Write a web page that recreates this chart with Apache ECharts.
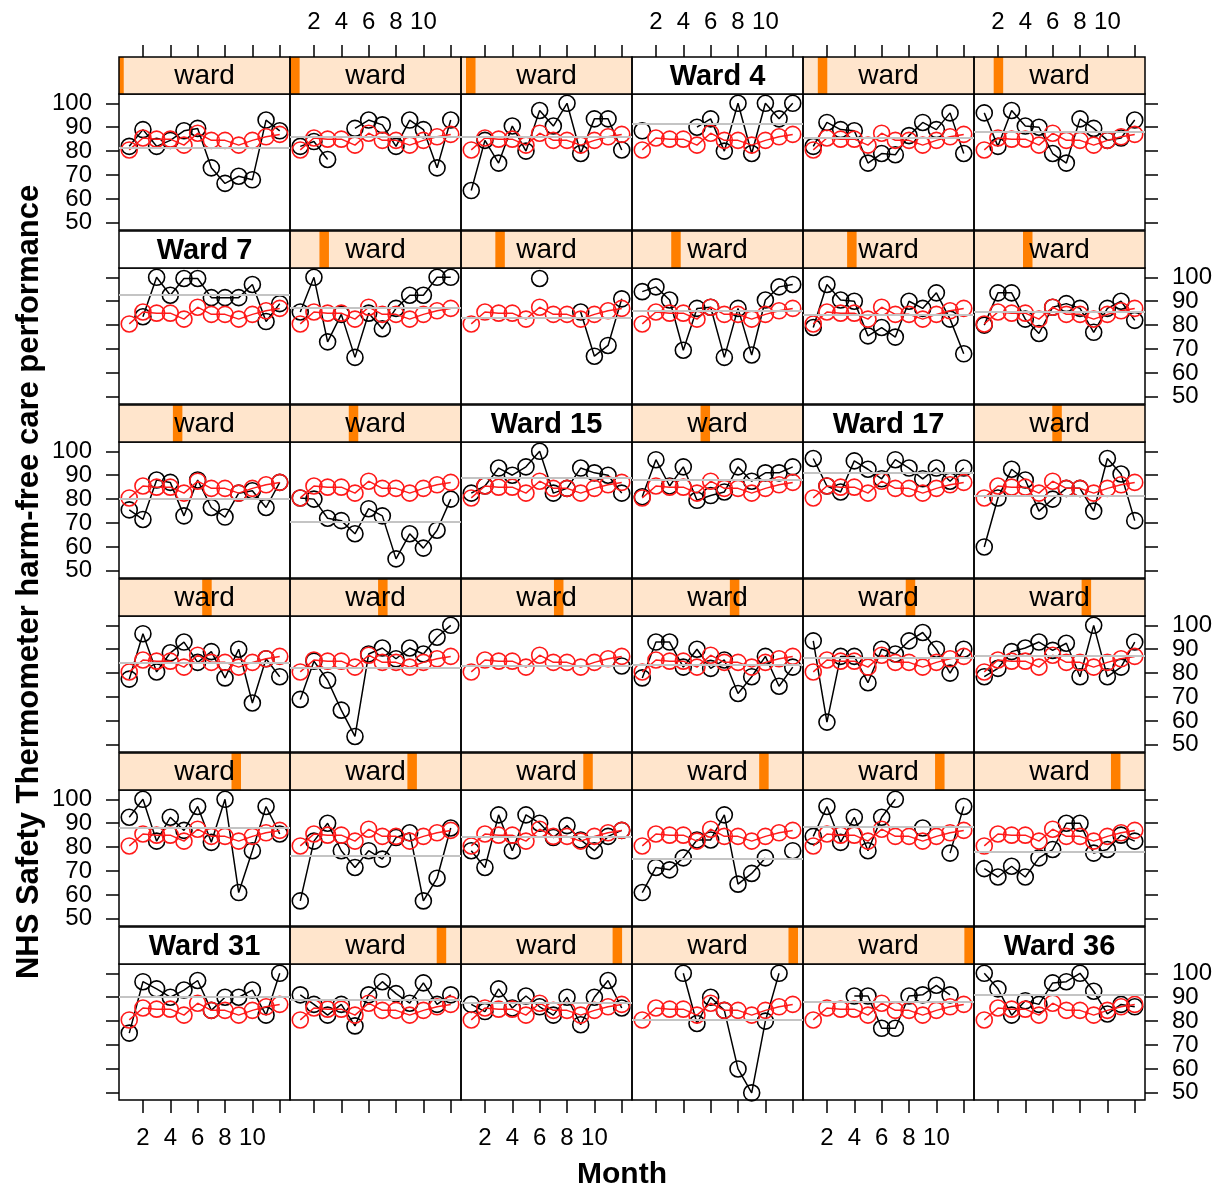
<!DOCTYPE html>
<html>
<head>
<meta charset="utf-8">
<script src="https://cdn.jsdelivr.net/npm/echarts@6/dist/echarts.min.js"></script>
<style>
html,body{margin:0;padding:0;background:#fff;}
#chart{width:1230px;height:1191px;}
</style>
</head>
<body>
<div id="chart"></div>
<script>
// ---------------- data ----------------
const months = [1,2,3,4,5,6,7,8,9,10,11,12];
const overall = [80.5,85.5,85,85,82.5,87.5,84.5,84.5,82.5,84.5,86,87];

const ward01 = [82,89,82,84.5,88.5,89.5,73,66.5,69.5,68,93,88.5];
const ward02 = [82,84,76.5,null,89.5,93,91,82,93,89,73,93];
const ward03 = [63.5,84.5,75,90.5,80,97,90.5,100,79,93.5,93.5,80.5];
const ward04 = [88.5,null,null,null,90,93.5,80,100,79,100,93.5,100];
const ward05 = [82,92,89,88.5,75,79,78.5,86.5,92,89,96,79];
const ward06 = [96,82,97,90.5,90,79,75,93.5,89.5,84.5,85.5,93];
const ward07 = [null,83.5,100,92.5,99.5,99.5,91.5,91.5,91.5,97,81.5,89];
const ward08 = [85.5,100,73,84.5,66.5,85,78.5,87,92.5,92.5,100,100];
const ward09 = [null,null,null,null,null,99.5,null,null,85.5,67,71.5,91];
const ward10 = [94,96,90.5,69.5,87,87.5,66.5,87,67.5,90.5,96,97];
const ward11 = [79,97,90.5,90,75.5,79,75,90,87,93.5,82.5,68];
const ward12 = [80,93.5,93.5,82.5,76.5,87.5,89,87,77,87,90,82];
const ward13 = [75.5,71.5,88,87,73,88,76.5,72.5,82.5,83.5,76.5,87];
const ward14 = [80.5,80,72,71,65.5,76,73,55,65.5,59.5,67,80];
const ward15 = [82.5,85.5,93,90,93.5,100,82.5,84.5,93,91,90,82.5];
const ward16 = [81,96.5,85.5,93.5,79.5,81.5,83,93.5,87.5,91,91,93.5];
const ward17 = [97,85.5,83,96,92.5,88.5,96.5,93,88.5,93,87.5,93];
const ward18 = [60,80.5,92.5,88,75,80,84.5,84.5,75,97,90.5,71];
const ward19 = [77.5,96.5,80.5,88.5,93,84.5,89,78,90,67.5,86,78.5];
const ward20 = [69,85,77,64.5,53.5,88,90.5,86,90.5,88,95,100];
const ward21 = [null,null,null,null,null,null,null,null,null,null,null,83];
const ward22 = [78,93,93,82.5,90,82,85.5,71.5,78.5,87,74.5,82.5];
const ward23 = [93.5,59.5,87,87,76,90,88,93.5,97,90,80,90];
const ward24 = [78.5,82,89,90.5,93,89.5,92.5,78.5,100,78.5,82.5,93];
const ward25 = [92.5,100,82.5,92.5,87,97,82,100,61,78.5,97,85.5];
const ward26 = [57.5,82.5,90,78.5,71.5,78.5,75,84,86,57.5,67,88];
const ward27 = [78.5,71.5,93.5,78.5,93.5,90,84,89,83,78.5,84.5,87];
const ward28 = [61,71.5,70.5,75.5,83,83,93.5,64.5,69,75.5,null,78.5];
const ward29 = [84.5,97,82,92.5,78.5,92.5,100,null,88,null,77.5,97];
const ward30 = [71,67.5,72,67.5,75.5,79,90,90,77.5,79,85,82.5];
const ward31 = [75,96.5,93.5,90,93,97,84.5,90,90,93,82.5,100];
const ward32 = [91,87,82.5,87,78,91,96.5,91.5,87.5,96,87,91];
const ward33 = [87,84,93.5,85.5,90.5,86,82.5,90,78.5,90,97,85.5];
const ward34 = [null,null,null,100,79,90,84.5,60,50,80,100,null];
const ward35 = [null,null,null,90.5,90.5,77,77,90.5,91,95,91,null];
const ward36 = [100,93.5,82.5,88.5,87,96,96.5,100,92.5,83,87,86];

// grey reference line (ward level) per ward
const wardMeans = [81.5,86,86,91.5,85.5,88,92.5,87.3,83.2,86,84.2,85.8,
                   80.1,70.7,89,88,91.2,81.5,84.2,82.4,83,83.6,86.3,87.4,
                   88,76.2,84.3,75,88.6,78.2,90.3,89,87.5,80.5,87.9,91];

const namedWards = [4,7,15,17,31,36];
const xTicks = [2,4,6,8,10,12];
const xTickLabels = [2,4,6,8,10];
const yTicks = [50,60,70,80,90,100];
const xTitle = 'Month';
const yTitle = 'NHS Safety Thermometer harm-free care performance';

const allWards = [ward01,ward02,ward03,ward04,ward05,ward06,ward07,ward08,ward09,ward10,
  ward11,ward12,ward13,ward14,ward15,ward16,ward17,ward18,ward19,ward20,
  ward21,ward22,ward23,ward24,ward25,ward26,ward27,ward28,ward29,ward30,
  ward31,ward32,ward33,ward34,ward35,ward36];

// ---------------- layout ----------------
const FONT = "'Liberation Sans', Arial, Helvetica, sans-serif";
const LAY = {left:119, top:94, pw:171, ph:136, rowStep:174, strip:37,
             xMin:0.25, xMax:12.75, yMin:47, yMax:103.9, nCols:6};

const grids = [], xAxes = [], yAxes = [], series = [], graphics = [];

function toPairs(vals){
  return months.map((m,i)=>[m, vals[i]==null ? '-' : vals[i]]);
}

allWards.forEach((vals, w) => {
  const r = Math.floor(w / LAY.nCols), c = w % LAY.nCols;
  const gl = LAY.left + c*LAY.pw, gt = LAY.top + r*LAY.rowStep;
  grids.push({left:gl, top:gt, width:LAY.pw, height:LAY.ph, show:true,
              borderColor:'#000', borderWidth:1.5, backgroundColor:'transparent', containLabel:false});

  const tickStyle = {color:'#000', width:1.5};
  const labelStyle = {color:'#000', fontSize:24, fontFamily:FONT};

  const xi = xAxes.length;
  xAxes.push({gridIndex:w, type:'value', min:LAY.xMin, max:LAY.xMax, position:'bottom',
    axisLine:{show:false}, splitLine:{show:false},
    axisTick:{show:r===5, length:13, customValues:xTicks, lineStyle:tickStyle},
    axisLabel:Object.assign({show:r===5 && c%2===0, customValues:xTickLabels, margin:26}, labelStyle)});
  if (r === 0) {
    xAxes.push({gridIndex:w, type:'value', min:LAY.xMin, max:LAY.xMax, position:'top', offset:LAY.strip,
      axisLine:{show:false}, splitLine:{show:false},
      axisTick:{show:true, length:12, customValues:xTicks, lineStyle:tickStyle},
      axisLabel:Object.assign({show:c%2===1, customValues:xTickLabels, margin:23}, labelStyle)});
  }
  const yi = yAxes.length;
  const isEdge = (c===0 || c===5);
  yAxes.push({gridIndex:w, type:'value', min:LAY.yMin, max:LAY.yMax, position:c===5?'right':'left',
    axisLine:{show:false}, splitLine:{show:false},
    axisTick:{show:isEdge, length:13, customValues:yTicks, lineStyle:tickStyle},
    axisLabel:Object.assign({show:(c===0 && r%2===0)||(c===5 && r%2===1), customValues:yTicks, margin:27}, labelStyle)});

  // grey reference line
  series.push({type:'line', xAxisIndex:xi, yAxisIndex:yi, data:[], z:1, silent:true,
    markLine:{silent:true, symbol:'none', animation:false, label:{show:false},
      lineStyle:{color:'#c4c4c4', width:2, type:'solid'},
      data:[{yAxis:wardMeans[w]}]}});
  // ward series (black)
  series.push({type:'line', xAxisIndex:xi, yAxisIndex:yi, data:toPairs(vals), z:2,
    connectNulls:false, showSymbol:true, showAllSymbol:true, symbol:'circle', symbolSize:16,
    lineStyle:{color:'#000', width:1.5},
    itemStyle:{color:'rgba(0,0,0,0)', borderColor:'#000', borderWidth:1.6}});
  // overall series (red)
  series.push({type:'line', xAxisIndex:xi, yAxisIndex:yi, data:toPairs(overall), z:3,
    showSymbol:true, showAllSymbol:true, symbol:'circle', symbolSize:16,
    lineStyle:{color:'#ff1a1a', width:1.5},
    itemStyle:{color:'rgba(0,0,0,0)', borderColor:'#ff1a1a', borderWidth:1.6}});

  // strip
  const wardNo = w + 1;
  const named = namedWards.indexOf(wardNo) >= 0;
  const sy = gt - LAY.strip;
  graphics.push({type:'rect', shape:{x:gl, y:sy, width:LAY.pw, height:LAY.strip},
    style:{fill: named ? '#ffffff' : '#ffe5cc', stroke:'none'}, z:10});
  if (!named) {
    const n = allWards.length;
    const centre = gl + (wardNo-1)/(n-1)*LAY.pw;
    const half = LAY.pw/n;
    const x0 = Math.max(gl, centre-half), x1 = Math.min(gl+LAY.pw, centre+half);
    graphics.push({type:'rect', shape:{x:x0, y:sy, width:x1-x0, height:LAY.strip},
      style:{fill:'#ff7f00'}, z:11});
  }
  graphics.push({type:'text', x:gl+LAY.pw/2, y:sy+LAY.strip/2+1, z:12,
    style:{text: named ? ('Ward ' + wardNo) : 'ward', fill:'#000',
      fontSize: named ? 29 : 28, fontWeight: named ? 'bold' : 'normal', fontFamily:FONT,
      align:'center', verticalAlign:'middle', textAlign:'center', textVerticalAlign:'middle'}});
  graphics.push({type:'rect', shape:{x:gl, y:sy, width:LAY.pw, height:LAY.strip},
    style:{fill:'none', stroke:'#000', lineWidth:1.5}, z:13});
});

// axis titles
graphics.push({type:'text', x:622, y:1175, z:20,
  style:{text:xTitle, fill:'#000', fontSize:30, fontWeight:'bold', fontFamily:FONT,
    align:'center', verticalAlign:'middle', textAlign:'center', textVerticalAlign:'middle'}});
graphics.push({type:'text', x:29, y:582, rotation:Math.PI/2, z:20,
  style:{text:yTitle, fill:'#000', fontSize:31, fontWeight:'bold', fontFamily:FONT,
    align:'center', verticalAlign:'middle', textAlign:'center', textVerticalAlign:'middle'}});

const chart = echarts.init(document.getElementById('chart'), null, {renderer:'canvas'});
chart.setOption({
  animation:false,
  backgroundColor:'#ffffff',
  grid:grids, xAxis:xAxes, yAxis:yAxes, series:series,
  graphic:{elements:graphics}
});
</script>
</body>
</html>
